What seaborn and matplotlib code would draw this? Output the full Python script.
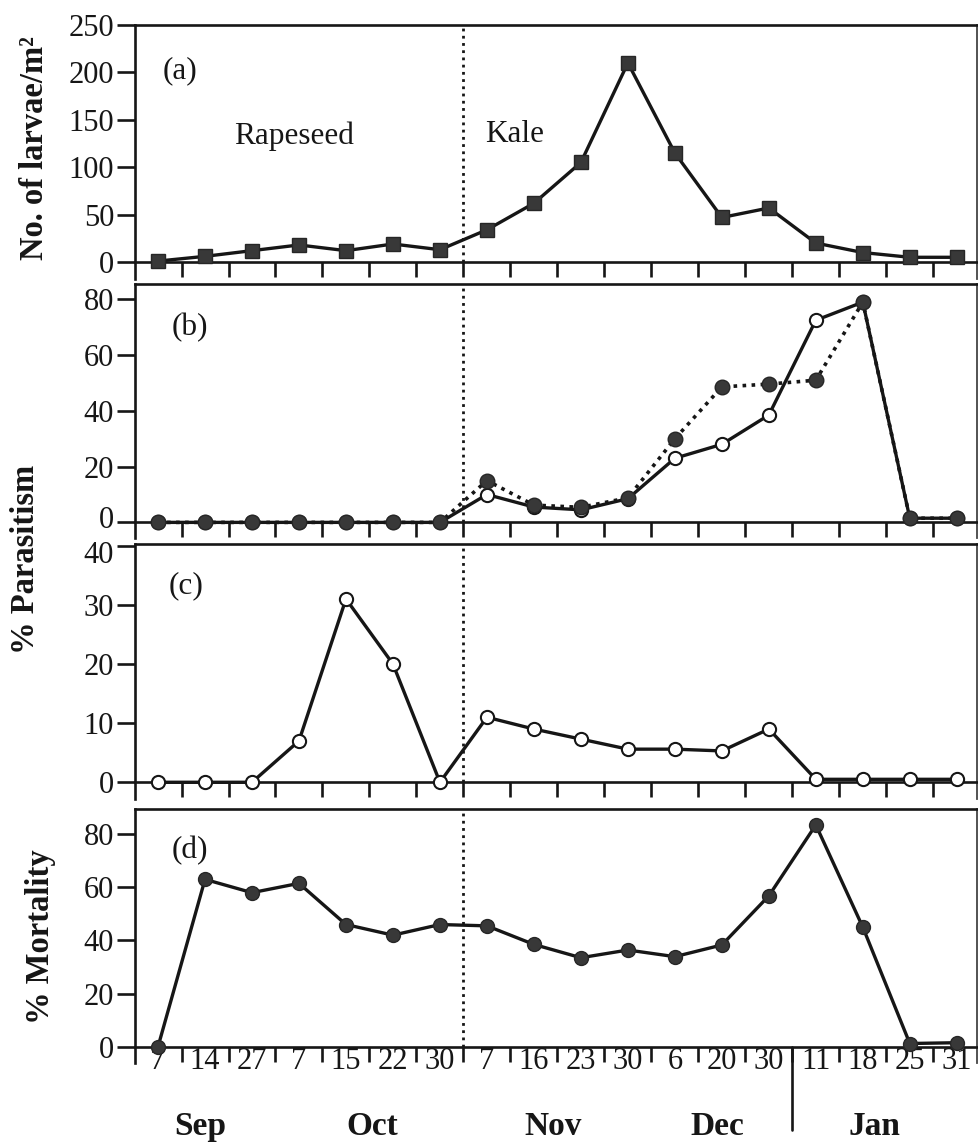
import numpy as np
import pandas as pd
import matplotlib
matplotlib.use("Agg")
import matplotlib.pyplot as plt
import matplotlib.transforms as mtransforms
import seaborn as sns

# Sampling dates (day of month) and month captions
day_labels = ["7", "14", "27", "7", "15", "22", "30", "7", "16", "23", "30",
              "6", "20", "30", "11", "18", "25", "31"]
months = ["Sep", "Oct", "Nov", "Dec", "Jan"]
month_pos = [0.9, 4.55, 8.4, 11.9, 15.25]

# (a) larval density
larvae = [1, 6, 12, 18, 12, 19, 13, 34, 62, 105, 210, 115, 47, 57, 20, 10, 5, 5]
# (b) parasitism, two parasitoid series
para_b_open = [0, 0, 0, 0, 0, 0, 0, 10, 5.5, 4.5, 8.5, 23, 28, 38.5, 72.5, 79, 1.5, 1.5]
para_b_filled = [0, 0, 0, 0, 0, 0, 0, 15, 6.2, 5.4, 8.8, 30, 48.6, 49.6, 51, 79, 1.5, 1.5]
# (c) parasitism, second parasitoid
para_c = [0, 0, 0, 7, 31, 20, 0, 11, 9, 7.3, 5.6, 5.6, 5.3, 9, 0.5, 0.5, 0.5, 0.5]
# (d) total mortality
mortality = [0, 63, 58, 61.5, 46, 42, 46, 45.5, 38.5, 33.5, 36.4, 33.9, 38.3,
             56.8, 83.5, 45, 1.2, 1.5]

crop_switch = 6.5      # rapeseed -> kale
year_switch = 13.5     # Dec -> Jan

sns.set_theme(style="ticks")
plt.rcParams["font.family"] = ["Liberation Serif", "DejaVu Serif"]

INK = "#161616"
FILL = "#383838"
W, H = 979, 1146
fig = plt.figure(figsize=(W / 100, H / 100), dpi=100)

df = pd.DataFrame({
    "idx": np.arange(len(day_labels)),
    "larvae": larvae,
    "pb_open": para_b_open,
    "pb_filled": para_b_filled,
    "pc": para_c,
    "mort": mortality,
})

TICK_FS = 22
TEXT_FS = 22.5

# panel boxes in pixels (top, bottom) and y limits
boxes = [
    (25, 279, (-17.9, 250), [0, 50, 100, 150, 200, 250]),
    (284, 538, (-5.6, 85.5), [0, 20, 40, 60, 80]),
    (544, 799, (-2.83, 40.3), [0, 10, 20, 30, 40]),
    (809, 1063, (-6.14, 89.5), [0, 20, 40, 60, 80]),
]
left_px, right_px = 135, 977
axes = []
for top, bot, ylim, yt in boxes:
    ax = fig.add_axes([left_px / W, 1 - bot / H, (right_px - left_px) / W, (bot - top) / H])
    ax.set_xlim(-0.49, 17.43)
    ax.set_ylim(*ylim)
    ax.set_yticks(yt)
    ax.set_yticklabels([str(v) for v in yt])
    ax.set_xticks(np.arange(0.5, 17, 1.0))
    ax.set_xticklabels([])
    ax.spines["bottom"].set_position(("data", 0))
    for s in ["left", "top", "bottom"]:
        ax.spines[s].set_linewidth(1.9)
        ax.spines[s].set_color(INK)
    ax.spines["right"].set_linewidth(1.3)
    ax.spines["right"].set_color("#444444")
    ax.tick_params(axis="y", direction="out", length=13, width=1.9, color=INK,
                   labelsize=TICK_FS, pad=2, labelcolor=INK)
    ax.tick_params(axis="x", which="major", direction="out", length=11, width=1.9,
                   color=INK)
    ax.set_facecolor("white")
    ax.vlines(crop_switch, 0, ylim[1], colors=INK, linestyles=(0, (1, 1.6)),
              linewidth=2.0, zorder=1)
    axes.append(ax)

ax_a, ax_b, ax_c, ax_d = axes

# (a) squares
sns.lineplot(data=df, x="idx", y="larvae", ax=ax_a, estimator=None, color=INK,
             linewidth=2.4, marker="s", markersize=10.5, markerfacecolor=FILL,
             markeredgecolor="#262626", markeredgewidth=1.0, clip_on=False, zorder=3)

# (b) open circles with solid line, filled circles with dotted line
sns.lineplot(data=df, x="idx", y="pb_open", ax=ax_b, estimator=None, color=INK,
             linewidth=2.4, marker="o", markersize=9.5, markerfacecolor="white",
             markeredgecolor=INK, markeredgewidth=1.5, clip_on=False, zorder=3)
sns.lineplot(data=df, x="idx", y="pb_filled", ax=ax_b, estimator=None, color=INK,
             linewidth=2.6, linestyle=(0, (1, 1.5)), marker="o", markersize=10.5,
             markerfacecolor=FILL, markeredgecolor="#262626", markeredgewidth=1.0,
             clip_on=False, zorder=4)

# (c) open circles
sns.lineplot(data=df, x="idx", y="pc", ax=ax_c, estimator=None, color=INK,
             linewidth=2.4, marker="o", markersize=9.5, markerfacecolor="white",
             markeredgecolor=INK, markeredgewidth=1.5, clip_on=False, zorder=3)

# (d) filled circles
sns.lineplot(data=df, x="idx", y="mort", ax=ax_d, estimator=None, color=INK,
             linewidth=2.4, marker="o", markersize=10, markerfacecolor=FILL,
             markeredgecolor="#262626", markeredgewidth=1.0, clip_on=False, zorder=3)

for ax in axes:
    ax.set_xlabel("")
    ax.set_ylabel("")

# day labels under the last panel
ax_d.set_xticks(np.arange(len(day_labels)), minor=True)
ax_d.set_xticklabels(day_labels, minor=True, fontsize=TICK_FS, color=INK)
ax_d.tick_params(axis="x", which="minor", length=0, pad=0)

# the "0" of (b) and the "40" of (c) sit close together: nudge them apart
t0 = ax_b.yaxis.get_major_ticks()[0].label1
t0.set_transform(t0.get_transform() + mtransforms.ScaledTranslation(0, 5.5 / 100, fig.dpi_scale_trans))
t40 = ax_c.yaxis.get_major_ticks()[-1].label1
t40.set_transform(t40.get_transform() + mtransforms.ScaledTranslation(0, -6 / 100, fig.dpi_scale_trans))

# panel letters and crop captions
txt = dict(fontsize=TEXT_FS, color=INK, ha="center", va="center")
ax_a.text(0.47, 202, "(a)", **txt)
ax_b.text(0.68, 70, "(b)", **txt)
ax_c.text(0.6, 33.2, "(c)", **txt)
ax_d.text(0.68, 73.7, "(d)", **txt)
ax_a.text(2.89, 133, "Rapeseed", **txt)
ax_a.text(7.6, 135, "Kale", **txt)

# month captions and the year divider
blend = mtransforms.blended_transform_factory(ax_d.transData, fig.transFigure)
for m, x in zip(months, month_pos):
    ax_d.text(x, 1 - 1135 / H, m, transform=blend, ha="center", va="baseline",
              fontsize=24, fontweight="bold", color=INK)
ax_d.plot([year_switch, year_switch], [1 - 1047 / H, 1 - 1130 / H], transform=blend,
          color=INK, linewidth=1.9, clip_on=False)

# axis titles
lab = dict(rotation=90, ha="center", va="center", fontsize=23.5, fontweight="bold",
           color=INK)
fig.text(35 / W, 1 - 148 / H, "No. of larvae/m²", **lab)
fig.text(26 / W, 1 - 559 / H, "% Parasitism", **lab)
fig.text(41 / W, 1 - 937 / H, "% Mortality", **lab)

fig.savefig("out.png", dpi=100, facecolor="white")
